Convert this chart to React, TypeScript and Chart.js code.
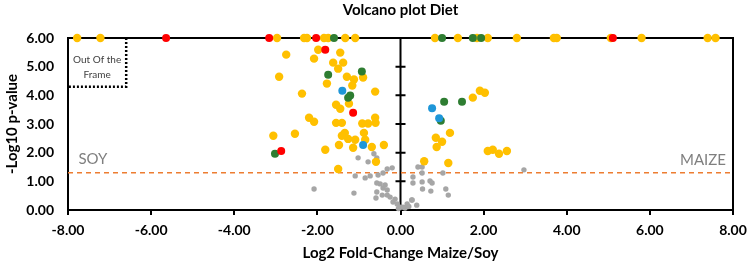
import React, { useEffect, useRef } from "react";
import { Chart, registerables } from "chart.js";
Chart.register(...registerables);

type P = { x: number; y: number };

const TITLE = "Volcano plot Diet";
const X_TITLE = "Log2 Fold-Change Maize/Soy";
const Y_TITLE = "-Log10 p-value";
const X_MIN = -8, X_MAX = 8, X_STEP = 2;
const Y_MIN = 0, Y_MAX = 6, Y_STEP = 1;
const THRESHOLD = 1.3;
const LEFT_LABEL = "SOY";
const RIGHT_LABEL = "MAIZE";
const FRAME_NOTE = ["Out Of the", "Frame"];

const yellowPts: P[] = [
  { x: -7.78, y: 6 }, { x: -7.22, y: 6 }, { x: -2.97, y: 6 }, { x: -2.32, y: 6 }, { x: -2.25, y: 6 },
  { x: -1.84, y: 6 }, { x: -1.74, y: 6 }, { x: -1.33, y: 6 }, { x: -1.09, y: 6 },
  { x: 0.83, y: 6 }, { x: 1.38, y: 6 }, { x: 1.84, y: 6 }, { x: 2.1, y: 6 }, { x: 2.8, y: 6 },
  { x: 3.69, y: 6 }, { x: 3.76, y: 6 }, { x: 5.06, y: 6 }, { x: 5.8, y: 6 }, { x: 7.39, y: 6 }, { x: 7.58, y: 6 },
  { x: -1.98, y: 5.59 }, { x: -1.45, y: 5.49 }, { x: -2.75, y: 5.42 }, { x: -2.08, y: 5.28 },
  { x: -1.62, y: 5.14 }, { x: -1.38, y: 5.14 }, { x: -1.5, y: 4.93 }, { x: -2.92, y: 4.65 },
  { x: -1.29, y: 4.65 }, { x: -0.9, y: 4.62 }, { x: -1.12, y: 4.55 }, { x: -1.77, y: 4.41 },
  { x: -1.16, y: 4.34 }, { x: -2.37, y: 4.06 }, { x: -0.61, y: 4.13 }, { x: -1.24, y: 3.71 },
  { x: -1.55, y: 3.67 }, { x: -1.45, y: 3.53 }, { x: -2.2, y: 3.22 }, { x: -2.08, y: 3.08 },
  { x: -1.55, y: 3.04 }, { x: -1.41, y: 3.04 }, { x: -0.92, y: 3.02 }, { x: -0.78, y: 3.02 },
  { x: -0.61, y: 3.22 }, { x: -0.6, y: 3.04 },
  { x: -3.06, y: 2.59 }, { x: -2.54, y: 2.66 }, { x: -1.34, y: 2.69 }, { x: -1.41, y: 2.59 },
  { x: -1.26, y: 2.48 }, { x: -1.09, y: 2.45 }, { x: -0.88, y: 2.69 }, { x: -0.85, y: 2.45 },
  { x: -0.69, y: 2.2 }, { x: -0.4, y: 2.27 }, { x: -1.81, y: 2.1 }, { x: -1.48, y: 2.27 },
  { x: -1.14, y: 2.17 }, { x: -0.59, y: 1.68 }, { x: -1.5, y: 1.43 },
  { x: 0.57, y: 1.7 }, { x: 0.85, y: 2.52 }, { x: 1.0, y: 2.38 }, { x: 0.87, y: 2.2 },
  { x: 1.19, y: 2.69 }, { x: 1.15, y: 1.64 }, { x: 2.1, y: 2.06 }, { x: 2.22, y: 2.1 },
  { x: 2.37, y: 1.96 }, { x: 2.56, y: 2.06 }, { x: 1.74, y: 3.92 }, { x: 1.91, y: 4.16 }, { x: 2.03, y: 4.09 },
];

const redPts: P[] = [
  { x: -5.64, y: 6 }, { x: -3.16, y: 6 }, { x: -2.03, y: 6 }, { x: 5.11, y: 6 },
  { x: -1.81, y: 5.59 }, { x: -1.14, y: 3.39 }, { x: -2.87, y: 2.06 },
];

const greenPts: P[] = [
  { x: -1.6, y: 6 }, { x: 1.0, y: 6 }, { x: 1.74, y: 6 }, { x: 1.94, y: 6 },
  { x: -0.93, y: 4.83 }, { x: -1.74, y: 4.72 }, { x: -1.21, y: 3.99 }, { x: -1.26, y: 3.92 },
  { x: -3.02, y: 1.96 }, { x: 1.05, y: 3.78 }, { x: 1.48, y: 3.78 }, { x: 0.97, y: 3.11 },
];

const bluePts: P[] = [
  { x: -1.4, y: 4.16 }, { x: -0.9, y: 2.27 }, { x: 0.76, y: 3.55 }, { x: 0.93, y: 3.2 },
];

const grayPts: P[] = [
  { x: -2.08, y: 0.73 }, { x: -1.12, y: 0.59 }, { x: -1.09, y: 1.19 }, { x: -1.02, y: 1.82 },
  { x: -0.78, y: 1.68 }, { x: -0.64, y: 1.96 }, { x: -0.57, y: 1.82 }, { x: -0.32, y: 1.43 },
  { x: -0.2, y: 1.47 }, { x: -0.42, y: 1.29 }, { x: -0.54, y: 1.22 }, { x: -0.85, y: 1.12 },
  { x: -0.73, y: 1.19 }, { x: -0.57, y: 0.94 }, { x: -0.49, y: 0.91 }, { x: -0.37, y: 0.87 },
  { x: -0.42, y: 0.77 }, { x: -0.32, y: 0.7 }, { x: -0.57, y: 0.63 }, { x: -0.32, y: 0.52 },
  { x: -0.25, y: 0.45 }, { x: -0.59, y: 0.42 }, { x: -0.18, y: 0.28 }, { x: -0.08, y: 0.21 },
  { x: -0.01, y: 0.1 }, { x: 0.11, y: 0.07 }, { x: 0.28, y: 0.35 }, { x: 0.16, y: 0.21 },
  { x: -0.13, y: 0.38 }, { x: -0.44, y: 0.52 }, { x: 0.42, y: 1.5 }, { x: 0.52, y: 1.5 },
  { x: 0.52, y: 1.29 }, { x: 0.3, y: 1.15 }, { x: 0.3, y: 0.94 }, { x: 0.52, y: 0.98 },
  { x: 0.71, y: 1.01 }, { x: 0.76, y: 0.94 }, { x: 0.53, y: 0.73 }, { x: 0.73, y: 0.66 },
  { x: 1.02, y: 1.29 }, { x: 1.09, y: 0.73 }, { x: 1.15, y: 0.52 }, { x: 2.97, y: 1.4 },
  { x: 0.27, y: 0.35 }, { x: 0.39, y: 0.17 }, { x: 0.06, y: 0.1 }, { x: -0.05, y: 0.05 }, { x: 0.2, y: 0.12 },
];

const FONT = "Lato, 'Open Sans', sans-serif";

const decorPlugin = {
  id: "decor",
  beforeDatasetsDraw(chart: any) {
    const { ctx, chartArea: a, scales } = chart;
    const xs = scales.x, ys = scales.y;
    ctx.save();
    // title centred over the plot
    ctx.fillStyle = "#000";
    ctx.font = `bold 15px ${FONT}`;
    ctx.textAlign = "center";
    ctx.textBaseline = "middle";
    ctx.fillText(TITLE, (a.left + a.right) / 2, 10);
    // top and right frame lines
    ctx.strokeStyle = "#000";
    ctx.lineWidth = 2;
    ctx.beginPath();
    ctx.moveTo(a.left, a.top);
    ctx.lineTo(a.right, a.top);
    ctx.lineTo(a.right, a.bottom);
    ctx.stroke();
    // center axis with cross ticks
    const cx = xs.getPixelForValue(0);
    ctx.beginPath();
    ctx.moveTo(cx, a.top);
    ctx.lineTo(cx, a.bottom);
    for (let v = Y_MIN + Y_STEP; v <= Y_MAX; v += Y_STEP) {
      const py = ys.getPixelForValue(v);
      ctx.moveTo(cx - 5, py);
      ctx.lineTo(cx + 5, py);
    }
    ctx.stroke();
    // threshold line
    const ty = ys.getPixelForValue(THRESHOLD);
    ctx.strokeStyle = "#ED7D31";
    ctx.lineWidth = 1.5;
    ctx.setLineDash([5, 4]);
    ctx.beginPath();
    ctx.moveTo(a.left, ty);
    ctx.lineTo(a.right, ty);
    ctx.stroke();
    // out of frame box
    const bx = xs.getPixelForValue(-6.6);
    const by = ys.getPixelForValue(4.3);
    ctx.strokeStyle = "#000";
    ctx.lineWidth = 2.5;
    ctx.setLineDash([2, 2]);
    ctx.beginPath();
    ctx.moveTo(bx, a.top);
    ctx.lineTo(bx, by);
    ctx.lineTo(a.left, by);
    ctx.stroke();
    ctx.setLineDash([]);
    ctx.fillStyle = "#404040";
    ctx.font = `10px ${FONT}`;
    ctx.textAlign = "center";
    ctx.textBaseline = "middle";
    const mx = (a.left + bx) / 2;
    ctx.fillText(FRAME_NOTE[0], mx, ys.getPixelForValue(5.25));
    ctx.fillText(FRAME_NOTE[1], mx, ys.getPixelForValue(4.72));
    // side labels
    ctx.fillStyle = "#7F7F7F";
    ctx.font = `15px ${FONT}`;
    ctx.textAlign = "left";
    ctx.fillText(LEFT_LABEL, xs.getPixelForValue(-7.75), ys.getPixelForValue(1.76));
    ctx.textAlign = "right";
    ctx.fillText(RIGHT_LABEL, xs.getPixelForValue(7.83), ys.getPixelForValue(1.74));
    ctx.restore();
  },
};

export default function App() {
  const ref = useRef<HTMLCanvasElement>(null);
  useEffect(() => {
    document.body.style.margin = "0";
    const pt = (data: P[], color: string, r: number) => ({
      type: "scatter" as const,
      data,
      backgroundColor: color,
      borderColor: color,
      borderWidth: 0,
      pointRadius: r,
      pointHoverRadius: r,
      clip: false as any,
    });
    const chart = new Chart(ref.current!, {
      type: "scatter",
      data: {
        datasets: [
          pt(redPts, "#FF0000", 4),
          pt(bluePts, "#1E96D8", 4),
          pt(greenPts, "#2E7D32", 4),
          pt(yellowPts, "#FFC000", 4.2),
          pt(grayPts, "#A6A6A6", 2.7),
        ],
      },
      options: {
        animation: false,
        responsive: false,
        maintainAspectRatio: false,
        layout: { padding: { left: 0, right: 21, top: 38, bottom: 0 } },
        plugins: {
          legend: { display: false },
          tooltip: { enabled: false },
          title: { display: false },
        },
        scales: {
          x: {
            type: "linear",
            min: X_MIN,
            max: X_MAX,
            afterFit: (s: any) => { s.height = 54; },
            ticks: {
              stepSize: X_STEP,
              color: "#000",
              font: { family: FONT, size: 14, weight: "bold" },
              padding: 7,
              callback: (v: any) => Number(v).toFixed(2),
            },
            grid: { drawOnChartArea: false, drawTicks: true, tickLength: 5, color: "#000", lineWidth: 2 },
            border: { display: true, color: "#000", width: 2 },
            title: {
              display: true,
              text: X_TITLE,
              color: "#000",
              font: { family: FONT, size: 15, weight: "bold" },
              padding: { top: 0, bottom: 2 },
            },
          },
          y: {
            type: "linear",
            min: Y_MIN,
            max: Y_MAX,
            afterFit: (s: any) => { s.width = 68; },
            ticks: {
              stepSize: Y_STEP,
              color: "#000",
              font: { family: FONT, size: 14, weight: "bold" },
              padding: 14,
              callback: (v: any) => Number(v).toFixed(2),
            },
            grid: { drawOnChartArea: false, drawTicks: false },
            border: { display: true, color: "#000", width: 2 },
            title: {
              display: true,
              text: Y_TITLE,
              color: "#000",
              font: { family: FONT, size: 15, weight: "bold" },
              padding: { top: 3, bottom: 0 },
            },
          },
        },
      },
      plugins: [decorPlugin],
    } as any);
    return () => chart.destroy();
  }, []);
  return (
    <div style={{ width: 754, height: 264, position: "relative" }}>
      <canvas ref={ref} width={754} height={264} style={{ display: "block" }} />
    </div>
  );
}
